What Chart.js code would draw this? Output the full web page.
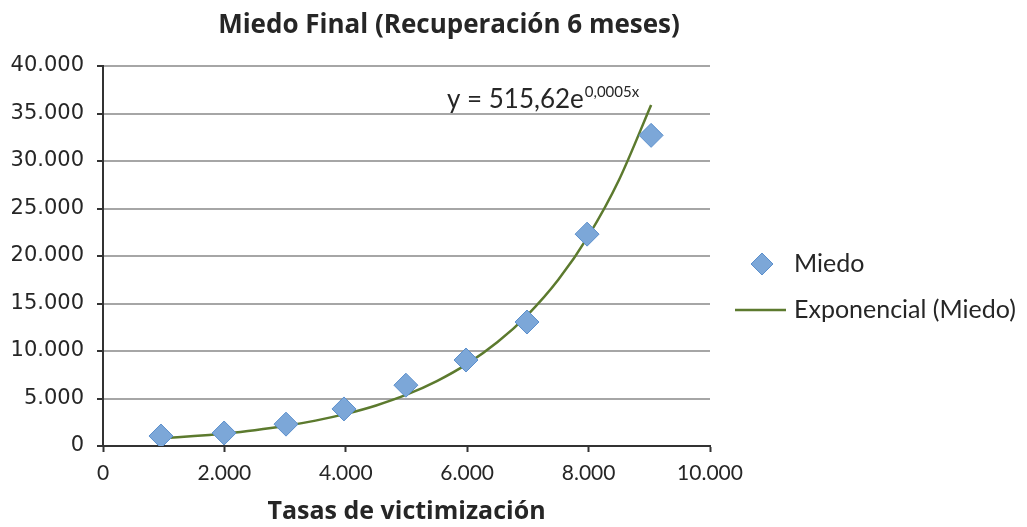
<!DOCTYPE html>
<html>
<head>
<meta charset="utf-8">
<script src="https://cdn.jsdelivr.net/npm/chart.js@4/dist/chart.umd.min.js"></script>
<style>
  html, body { margin: 0; padding: 0; background: #fff; }
  #wrap { width: 1027px; height: 527px; }
</style>
</head>
<body>
<div id="wrap"><canvas id="chart" width="1027" height="527"></canvas></div>
<script>
// data
const miedoX = [955, 1995, 3015, 3970, 4990, 5980, 6985, 7975, 9030];
const miedoY = [1050, 1370, 2300, 3900, 6400, 9050, 13050, 22300, 32700];

// trend line (Exponencial (Miedo)) read at several x positions
const trendX = [955, 1500, 2000, 2500, 3000, 3500, 4000, 4500, 5000, 5500, 6000, 6500, 7000, 7500, 8000, 8500, 9030];
const trendY = [810, 1040, 1320, 1670, 2110, 2670, 3380, 4270, 5400, 6840, 8650, 10940, 13840, 17500, 22150, 28000, 35900];

const chartTitle = "Miedo Final (Recuperación 6 meses)";
const xTitle = "Tasas de victimización";
const seriesLabel = "Miedo";
const trendLabel = "Exponencial (Miedo)";
const eqMain = "y = 515,62e";
const eqSup = "0,0005x";

const textColor = '#262626';
const markerFill = '#7ca7d8';
const markerBorder = '#5b8fcc';
const trendColor = '#5c7a2e';

// 5000 -> "5.000"
function fmt(v) {
  return String(v).replace(/\B(?=(\d{3})+(?!\d))/g, '.');
}

const toPoints = (xs, ys) => xs.map((x, i) => ({x: x, y: ys[i]}));

// title, legend and equation drawn by hand
const extras = {
  id: 'extras',
  afterDraw(chart) {
    const c = chart.ctx;
    const area = chart.chartArea;
    const sx = chart.scales.x, sy = chart.scales.y;
    c.save();

    // title
    c.fillStyle = textColor;
    c.textAlign = 'center';
    c.textBaseline = 'middle';
    c.font = 'bold 26px "Open Sans"';
    c.fillText(chartTitle, 449, 26);

    // equation
    let ex = sx.getPixelForValue(5667);
    let ey = sy.getPixelForValue(35550);
    c.textBaseline = 'alphabetic';
    c.textAlign = 'left';
    c.font = '26px Lato';
    c.fillText(eqMain, ex, ey);
    let w = c.measureText(eqMain).width;
    c.font = '15px Lato';
    c.fillText(eqSup, ex + w + 1, ey - 11);

    // legend
    const lx = area.right + 52;
    const ly1 = 264, ly2 = 310;
    c.fillStyle = markerFill;
    c.strokeStyle = markerBorder;
    c.lineWidth = 1;
    c.beginPath();
    c.moveTo(lx, ly1 - 11);
    c.lineTo(lx + 11, ly1);
    c.lineTo(lx, ly1 + 11);
    c.lineTo(lx - 11, ly1);
    c.closePath();
    c.fill();
    c.stroke();

    c.strokeStyle = trendColor;
    c.lineWidth = 2.5;
    c.beginPath();
    c.moveTo(area.right + 25, ly2);
    c.lineTo(area.right + 76, ly2);
    c.stroke();

    c.fillStyle = textColor;
    c.font = '25px Lato';
    c.textBaseline = 'middle';
    c.fillText(seriesLabel, area.right + 84, ly1);
    c.fillText(trendLabel, area.right + 84, ly2);
    c.restore();
  }
};

new Chart(document.getElementById('chart').getContext('2d'), {
  type: 'scatter',
  data: {
    datasets: [{
      label: seriesLabel,
      data: toPoints(miedoX, miedoY),
      pointStyle: 'rectRot',
      pointRadius: 12,
      backgroundColor: markerFill,
      borderColor: markerBorder,
      borderWidth: 1
    }, {
      label: trendLabel,
      data: toPoints(trendX, trendY),
      showLine: true,
      pointRadius: 0,
      borderColor: trendColor,
      borderWidth: 2.5,
      tension: 0.3
    }]
  },
  options: {
    responsive: false,
    animation: false,
    layout: { padding: { left: 0, right: 317, top: 66, bottom: 0 } },
    plugins: {
      legend: { display: false },
      tooltip: { enabled: false },
      title: { display: false }
    },
    scales: {
      x: {
        type: 'linear',
        min: 0,
        max: 10000,
        ticks: {
          stepSize: 2000,
          color: textColor,
          font: { family: 'Lato', size: 21 },
          padding: 9,
          maxRotation: 0,
          callback: (v) => fmt(v)
        },
        grid: { drawOnChartArea: false, tickLength: 6, tickColor: '#333', tickWidth: 2 },
        border: { color: '#333', width: 2 },
        title: {
          display: true,
          text: xTitle,
          color: textColor,
          font: { family: 'Open Sans', size: 25, weight: 'bold' },
          padding: { top: 0, bottom: 0 }
        },
        afterFit: (s) => { s.height = 81; }
      },
      y: {
        type: 'linear',
        min: 0,
        max: 40000,
        ticks: {
          stepSize: 5000,
          color: textColor,
          font: { family: 'DejaVu Sans', size: 21 },
          padding: 13,
          callback: (v) => fmt(v)
        },
        grid: { color: '#a6a6a6', lineWidth: 2, tickLength: 6, tickColor: '#333', tickWidth: 2 },
        border: { color: '#333', width: 2 },
        afterFit: (s) => { s.width = 103; }
      }
    }
  },
  plugins: [extras]
});
</script>
</body>
</html>
